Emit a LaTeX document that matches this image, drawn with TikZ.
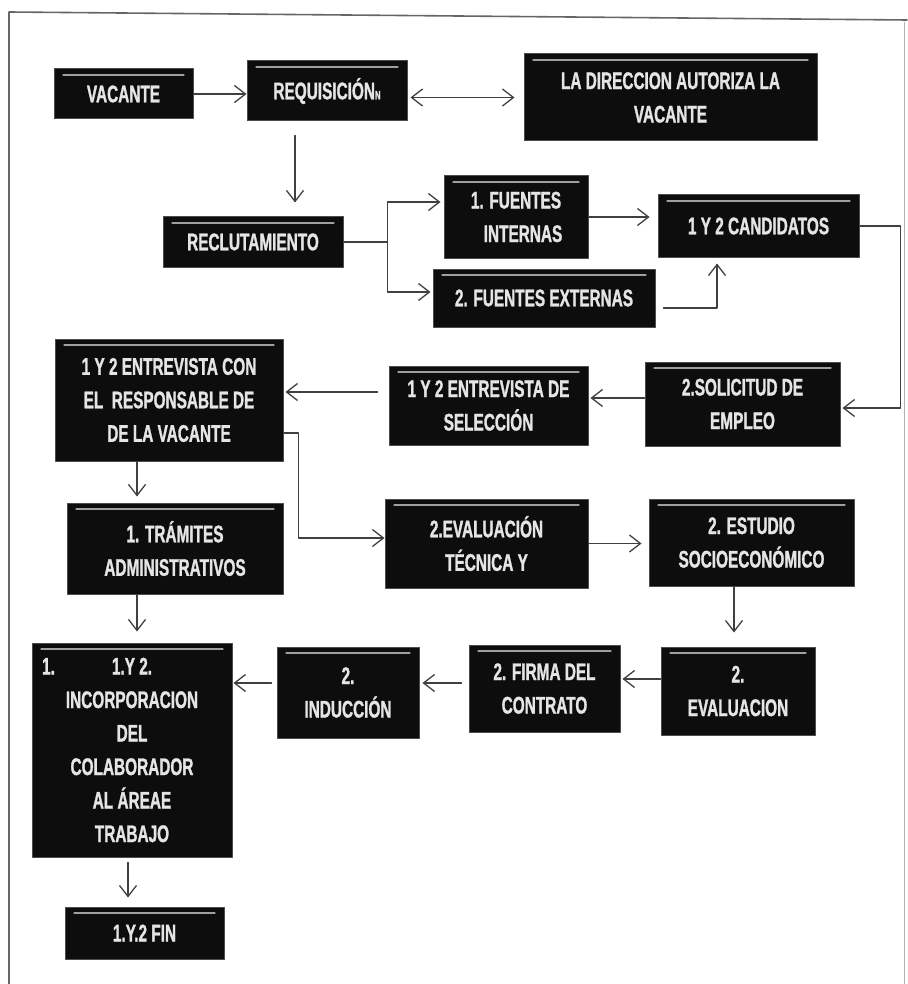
\documentclass[tikz,border=0pt]{standalone}
\usepackage{fontspec}
\newfontfamily\boxfont{Liberation Sans Bold}[FakeStretch=0.64, FakeBold=1.2]
\usetikzlibrary{arrows.meta}

\begin{document}
\begin{tikzpicture}[x=1pt, y=-1pt, font=\boxfont\fontsize{24}{33.5}\selectfont, line join=round, line cap=round, >={Straight Barb[length=11pt,width=17pt]},
		blk/.style={fill=black!95, draw=black!70, line width=1pt, text=white!90!black, align=center, inner sep=0pt,
			path picture={\draw[gray!75, line width=1.3pt] ([xshift=9pt,yshift=-6pt]path picture bounding box.north west) -- ([xshift=-9pt,yshift=-6pt]path picture bounding box.north east);}},
		arr/.style={->, draw=black!75, line width=1.3pt},
		lin/.style={draw=black!75, line width=1.3pt}]
				\useasboundingbox (0,0) rectangle (907,984);
				% marco
				\draw[black!60, line width=1.6pt] (9,984) -- (9,12) -- (907,20);
				\draw[black!30, line width=0.8pt] (904,22) -- (904,984);
				% cajas
				\node[blk, minimum width=139, minimum height=50] (vac) at (123.5,94) {VACANTE};
				\node[blk, minimum width=160, minimum height=60] (req) at (327,91) {REQUISICIÓN{\fontsize{12}{12}\selectfont N}};
				\node[blk, minimum width=293, minimum height=87] (dir) at (670.5,97.5) {LA DIRECCION AUTORIZA LA\\VACANTE};
				\node[blk, minimum width=180, minimum height=50] (rec) at (253,242) {RECLUTAMIENTO};
				\node[blk, minimum width=144, minimum height=82] (fint) at (516,217) {1. FUENTES\\\hspace{14pt}INTERNAS};
				\node[blk, minimum width=222, minimum height=58] (fext) at (544,298) {2. FUENTES EXTERNAS};
				\node[blk, minimum width=201, minimum height=62] (cand) at (758.5,226) {1 Y 2 CANDIDATOS};
				\node[blk, minimum width=195, minimum height=84] (sol) at (742.5,404) {2.SOLICITUD DE\\EMPLEO};
				\node[blk, minimum width=199, minimum height=79] (esel) at (488.5,405.5) {1 Y 2 ENTREVISTA DE\\SELECCIÓN};
				\node[blk, minimum width=228, minimum height=122] (econ) at (169,400) {1 Y 2 ENTREVISTA CON\\EL\ \ RESPONSABLE DE\\DE LA VACANTE};
				\node[blk, minimum width=216, minimum height=91] (tram) at (175,548.5) {1. TRÁMITES\\ADMINISTRATIVOS};
				\node[blk, minimum width=203, minimum height=89] (etec) at (486.5,543.5) {2.EVALUACIÓN\\TÉCNICA Y};
				\node[blk, minimum width=205, minimum height=87] (estu) at (751.5,542.5) {2. ESTUDIO\\SOCIOECONÓMICO};
				\node[blk, minimum width=154, minimum height=88] (eval) at (738,691) {2.\\EVALUACION};
				\node[blk, minimum width=151, minimum height=87] (firma) at (544.5,688.5) {2. FIRMA DEL\\CONTRATO};
				\node[blk, minimum width=142, minimum height=91] (induc) at (348,692.5) {2.\\INDUCCIÓN};
				\node[blk, minimum width=200, minimum height=214] (incor) at (132,750) {\llap{1.\hspace{57pt}}1.Y 2.\\INCORPORACION\\DEL\\COLABORADOR\\AL ÁREAE\\TRABAJO};
				\node[blk, minimum width=159, minimum height=52] (fin) at (144.5,933) {1.Y.2 FIN};
				% flechas
				\draw[arr] (vac.east) -- (vac.east -| req.west);
				\draw[arr, <->, shorten <=3pt, shorten >=9pt] (dir.west -| req.east) -- (dir.west);
				\draw[arr, shorten <=14pt, shorten >=14pt] ([xshift=-32pt]req.south) -- ([xshift=-32pt]req.south |- rec.north);
				\draw[lin] (rec.east) -- ++(44,0) coordinate (split);
				\draw[arr, shorten >=3pt] (split) |- ([yshift=15pt]fint.west);
				\draw[arr, shorten >=2pt] (split) |- ([yshift=6pt]fext.west);
				\draw[arr, shorten >=8pt] (fint.east) -- (fint.east -| cand.west);
				\draw[arr, shorten <=8pt, shorten >=6pt] ([yshift=-10pt]fext.east) -| ([xshift=-41.5pt]cand.south);
				\draw[arr, shorten >=2pt] (cand.east) -- ++(41,0) |- ([yshift=-4pt]sol.east);
				\draw[arr, shorten >=2pt] ([yshift=6pt]sol.west) -- ([yshift=6pt]sol.west -| esel.east);
				\draw[arr, shorten <=11pt, shorten >=2pt] ([yshift=13.5pt]esel.west) -- ([yshift=13.5pt]esel.west -| econ.east);
				\draw[arr] ([yshift=-33pt]econ.east) -- ++(15,0) |- ([yshift=5.5pt]etec.west);
				\draw[arr, shorten >=7pt] (etec.east) -- (etec.east -| estu.west);
				\draw[arr, shorten >=6pt] ([xshift=-32pt]econ.south) -- ([xshift=-32pt]econ.south |- tram.north);
				\draw[arr, shorten >=11pt] ([xshift=-38pt]tram.south) -- ([xshift=-38pt]tram.south |- incor.north);
				\draw[arr, shorten >=14pt] ([xshift=-17.5pt]estu.south) -- ([xshift=-17.5pt]estu.south |- eval.north);
				\draw[arr, shorten >=2pt] ([yshift=12pt]eval.west) -- ([yshift=12pt]eval.west -| firma.east);
				\draw[arr, shorten <=7pt, shorten >=3pt] ([yshift=5.5pt]firma.west) -- ([yshift=5.5pt]firma.west -| induc.east);
				\draw[arr, shorten <=5pt, shorten >=1pt] ([yshift=9.5pt]induc.west) -- ([yshift=9.5pt]induc.west -| incor.east);
				\draw[arr, shorten <=5pt, shorten >=9pt] ([xshift=-4pt]incor.south) -- ([xshift=-4pt]incor.south |- fin.north);
			\end{tikzpicture}
\end{document}
